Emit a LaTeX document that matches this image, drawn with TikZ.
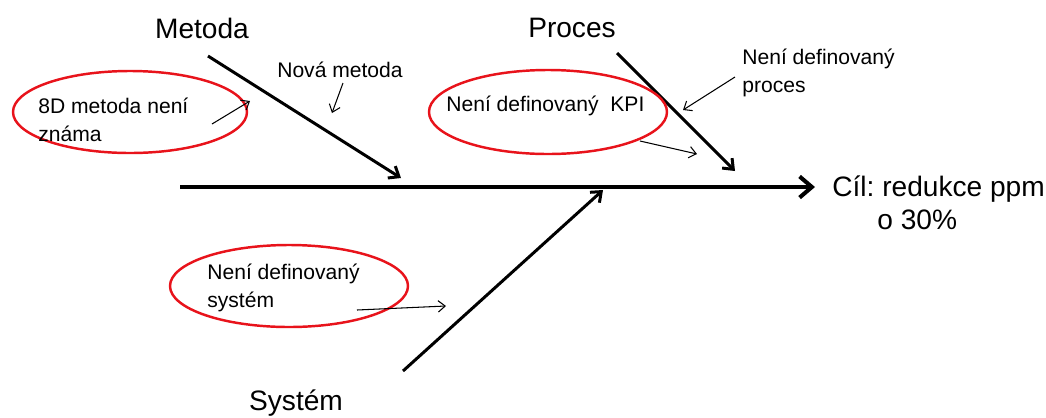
\documentclass[tikz,border=0pt]{standalone}
\usepackage{fontspec}
\setmainfont{Liberation Sans}
\usetikzlibrary{arrows.meta}
\definecolor{BoneInk}{HTML}{000000}
\definecolor{CauseRing}{HTML}{E8131B}
\frenchspacing

\begin{document}
\begin{tikzpicture}[x=0.02cm,y=-0.02cm,
    spine/.style={BoneInk,line width=2.3pt,-{Straight Barb[length=7pt,width=12pt]}},
    bone/.style={BoneInk,line width=1.7pt,-{Straight Barb[length=5pt,width=8pt]}},
    hint/.style={BoneInk,line width=0.6pt,-{Straight Barb[length=4pt,width=6.5pt]}},
    ring/.style={CauseRing,line width=1.4pt},
    head/.style={inner sep=0pt,font=\fontsize{16}{19}\selectfont},
    cause/.style={inner sep=0pt,align=left,font=\fontsize{12}{16}\selectfont}]
  \useasboundingbox (0,0) rectangle (1046,417);

  % spine and goal
  \coordinate (tail) at (180,187);
  \coordinate (tip) at (815,187);
  \draw[spine] (tail) -- (tip);
  \node[head,align=left,anchor=west] (goal) at (832,203) {Cíl: redukce ppm\\\hspace*{0.9cm}o 30\%};

  % bones
  \node[head] (metoda) at (202,28) {Metoda};
  \node[head] (proces) at (572,28) {Proces};
  \node[head] (system) at (296,403) {Systém};
  \coordinate (metodaA) at (208,56);
  \coordinate (metodaB) at (401,178);
  \coordinate (procesA) at (617,53);
  \coordinate (procesB) at (735,171);
  \coordinate (systemA) at (403,371);
  \coordinate (systemB) at (603,190);
  \draw[bone] (metodaA) -- (metodaB);
  \draw[bone] (procesA) -- (procesB);
  \draw[bone] (systemA) -- (systemB);

  % causes on Metoda
  \draw[ring] (130,112) ellipse (117 and 41);
  \node[cause,anchor=west] (znama) at (38,120) {8D metoda není\\známa};
  \node[cause] (nova) at (340,70) {Nová metoda};
  \coordinate (z1) at (212,124);
  \coordinate (z2) at (250,101);
  \coordinate (n1) at (343,83);
  \coordinate (n2) at (332,113);
  \draw[hint] (z1) -- (z2);
  \draw[hint] (n1) -- (n2);

  % causes on Proces
  \draw[ring] (548,112) ellipse (119 and 42);
  \node[cause,anchor=west] (kpi) at (446,106) {Není definovaný\ \ KPI};
  \node[cause,anchor=west] (procdef) at (742,73) {Není definovaný\\proces};
  \coordinate (k1) at (640,141);
  \coordinate (k2) at (697,154);
  \coordinate (p1) at (735,77);
  \coordinate (p2) at (683,110);
  \draw[hint] (k1) -- (k2);
  \draw[hint] (p1) -- (p2);

  % cause on Systém
  \draw[ring] (289,286) ellipse (119 and 41);
  \node[cause,anchor=west] (sysdef) at (207,288) {Není definovaný\\systém};
  \coordinate (s1) at (357,310);
  \coordinate (s2) at (446,306);
  \draw[hint] (s1) -- (s2);
\end{tikzpicture}
\end{document}
